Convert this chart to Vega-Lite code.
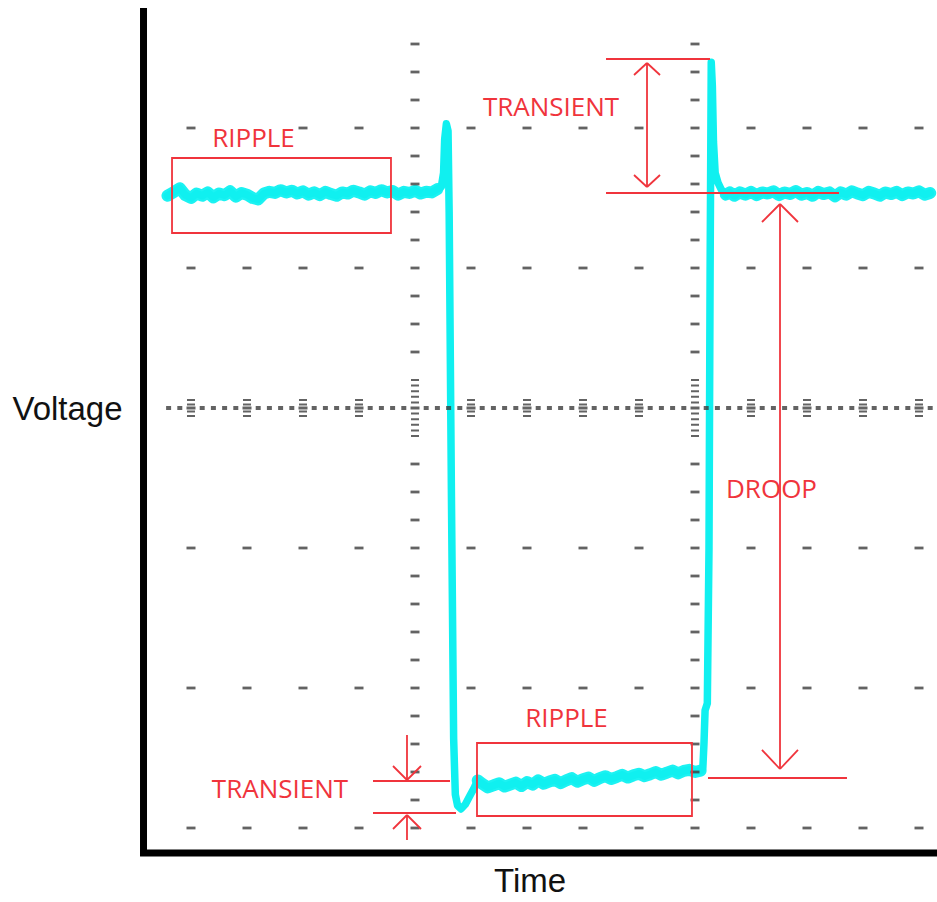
{
  "$schema": "https://vega.github.io/schema/vega-lite/v6.json",
  "width": 937,
  "height": 902,
  "autosize": {"type": "none"},
  "padding": 0,
  "background": "white",
  "config": {"view": {"stroke": null}},
  "datasets": {
    "trace": [
      {"s":"a","t":-4.42,"v":7.58},{"s":"a","t":-4.3,"v":7.72},{"s":"a","t":-4.2,"v":7.85},{"s":"a","t":-4.1,"v":7.6},{"s":"a","t":-4.0,"v":7.5},
      {"s":"a","t":-3.9,"v":7.66},{"s":"a","t":-3.8,"v":7.58},{"s":"a","t":-3.7,"v":7.7},{"s":"a","t":-3.6,"v":7.52},{"s":"a","t":-3.5,"v":7.66},
      {"s":"a","t":-3.4,"v":7.6},{"s":"a","t":-3.3,"v":7.74},{"s":"a","t":-3.2,"v":7.55},{"s":"a","t":-3.1,"v":7.68},{"s":"a","t":-3.0,"v":7.62},
      {"s":"a","t":-2.9,"v":7.5},{"s":"a","t":-2.8,"v":7.45},{"s":"a","t":-2.7,"v":7.66},{"s":"a","t":-2.6,"v":7.72},{"s":"a","t":-2.5,"v":7.68},
      {"s":"a","t":-2.4,"v":7.78},{"s":"a","t":-2.3,"v":7.7},{"s":"a","t":-2.2,"v":7.76},{"s":"a","t":-2.1,"v":7.66},{"s":"a","t":-2.0,"v":7.74},
      {"s":"a","t":-1.9,"v":7.62},{"s":"a","t":-1.8,"v":7.7},{"s":"a","t":-1.7,"v":7.6},{"s":"a","t":-1.6,"v":7.72},{"s":"a","t":-1.5,"v":7.64},
      {"s":"a","t":-1.4,"v":7.58},{"s":"a","t":-1.3,"v":7.7},{"s":"a","t":-1.2,"v":7.66},{"s":"a","t":-1.1,"v":7.76},{"s":"a","t":-1.0,"v":7.7},
      {"s":"a","t":-0.9,"v":7.62},{"s":"a","t":-0.8,"v":7.74},{"s":"a","t":-0.7,"v":7.68},{"s":"a","t":-0.6,"v":7.78},{"s":"a","t":-0.5,"v":7.7},
      {"s":"a","t":-0.4,"v":7.75},{"s":"a","t":-0.3,"v":7.62},{"s":"a","t":-0.2,"v":7.72},{"s":"a","t":-0.1,"v":7.68},{"s":"a","t":0.0,"v":7.76},
      {"s":"a","t":0.1,"v":7.66},{"s":"a","t":0.2,"v":7.72},{"s":"a","t":0.3,"v":7.7},{"s":"a","t":0.4,"v":7.82},
      {"s":"e","t":0.47,"v":7.9},{"s":"e","t":0.51,"v":8.4},{"s":"e","t":0.53,"v":9.6},{"s":"e","t":0.56,"v":10.15},{"s":"e","t":0.59,"v":9.9},
      {"s":"e","t":0.61,"v":7.0},{"s":"e","t":0.65,"v":-3.0},{"s":"e","t":0.69,"v":-11.8},{"s":"e","t":0.72,"v":-13.8},
      {"s":"e","t":0.76,"v":-14.2},{"s":"e","t":0.82,"v":-14.32},{"s":"e","t":0.9,"v":-14.15},{"s":"e","t":0.98,"v":-13.85},{"s":"e","t":1.06,"v":-13.55},
      {"s":"b","t":1.12,"v":-13.3},{"s":"b","t":1.2,"v":-13.42},{"s":"b","t":1.3,"v":-13.55},{"s":"b","t":1.4,"v":-13.48},{"s":"b","t":1.5,"v":-13.4},
      {"s":"b","t":1.6,"v":-13.52},{"s":"b","t":1.7,"v":-13.45},{"s":"b","t":1.8,"v":-13.38},{"s":"b","t":1.9,"v":-13.5},{"s":"b","t":2.0,"v":-13.36},
      {"s":"b","t":2.1,"v":-13.45},{"s":"b","t":2.2,"v":-13.3},{"s":"b","t":2.3,"v":-13.42},{"s":"b","t":2.4,"v":-13.34},{"s":"b","t":2.5,"v":-13.28},
      {"s":"b","t":2.6,"v":-13.4},{"s":"b","t":2.7,"v":-13.3},{"s":"b","t":2.8,"v":-13.22},{"s":"b","t":2.9,"v":-13.35},{"s":"b","t":3.0,"v":-13.26},
      {"s":"b","t":3.1,"v":-13.2},{"s":"b","t":3.2,"v":-13.32},{"s":"b","t":3.3,"v":-13.22},{"s":"b","t":3.4,"v":-13.15},{"s":"b","t":3.5,"v":-13.25},
      {"s":"b","t":3.6,"v":-13.18},{"s":"b","t":3.7,"v":-13.1},{"s":"b","t":3.8,"v":-13.2},{"s":"b","t":3.9,"v":-13.12},{"s":"b","t":4.0,"v":-13.06},
      {"s":"b","t":4.1,"v":-13.15},{"s":"b","t":4.2,"v":-13.08},{"s":"b","t":4.3,"v":-13.0},{"s":"b","t":4.4,"v":-13.1},{"s":"b","t":4.5,"v":-13.02},
      {"s":"b","t":4.6,"v":-12.95},{"s":"b","t":4.7,"v":-13.05},{"s":"b","t":4.8,"v":-12.96},{"s":"b","t":4.9,"v":-12.92},{"s":"b","t":5.0,"v":-13.0},
      {"s":"b","t":5.1,"v":-12.95},
      {"s":"e","t":5.14,"v":-12.85},{"s":"e","t":5.16,"v":-12.0},{"s":"e","t":5.18,"v":-10.8},{"s":"e","t":5.22,"v":-10.55},
      {"s":"e","t":5.25,"v":-5.0},{"s":"e","t":5.27,"v":5.0},{"s":"e","t":5.29,"v":12.35},{"s":"e","t":5.31,"v":11.5},{"s":"e","t":5.33,"v":9.5},
      {"s":"e","t":5.36,"v":8.4},{"s":"e","t":5.41,"v":8.05},{"s":"e","t":5.47,"v":7.8},
      {"s":"c","t":5.55,"v":7.62},{"s":"c","t":5.62,"v":7.7},
      {"s":"c","t":5.7,"v":7.58},{"s":"c","t":5.8,"v":7.7},{"s":"c","t":5.9,"v":7.62},{"s":"c","t":6.0,"v":7.72},{"s":"c","t":6.1,"v":7.6},
      {"s":"c","t":6.2,"v":7.7},{"s":"c","t":6.3,"v":7.66},{"s":"c","t":6.4,"v":7.74},{"s":"c","t":6.5,"v":7.6},{"s":"c","t":6.6,"v":7.7},
      {"s":"c","t":6.7,"v":7.64},{"s":"c","t":6.8,"v":7.75},{"s":"c","t":6.9,"v":7.62},{"s":"c","t":7.0,"v":7.68},{"s":"c","t":7.1,"v":7.58},
      {"s":"c","t":7.2,"v":7.72},{"s":"c","t":7.3,"v":7.64},{"s":"c","t":7.4,"v":7.7},{"s":"c","t":7.5,"v":7.56},{"s":"c","t":7.6,"v":7.7},
      {"s":"c","t":7.7,"v":7.62},{"s":"c","t":7.8,"v":7.74},{"s":"c","t":7.9,"v":7.66},{"s":"c","t":8.0,"v":7.6},{"s":"c","t":8.1,"v":7.72},
      {"s":"c","t":8.2,"v":7.66},{"s":"c","t":8.3,"v":7.58},{"s":"c","t":8.4,"v":7.7},{"s":"c","t":8.5,"v":7.64},{"s":"c","t":8.6,"v":7.72},
      {"s":"c","t":8.7,"v":7.6},{"s":"c","t":8.8,"v":7.7},{"s":"c","t":8.9,"v":7.66},{"s":"c","t":9.0,"v":7.74},{"s":"c","t":9.1,"v":7.62},{"s":"c","t":9.2,"v":7.68}
    ],
    "grid": [
      {"k":"d","t":-4,"v":10},{"k":"d","t":-2,"v":10},{"k":"d","t":-1,"v":10},{"k":"d","t":1,"v":10},{"k":"d","t":2,"v":10},{"k":"d","t":3,"v":10},{"k":"d","t":4,"v":10},{"k":"d","t":6,"v":10},{"k":"d","t":7,"v":10},{"k":"d","t":8,"v":10},{"k":"d","t":9,"v":10},
      {"k":"d","t":-4,"v":5},{"k":"d","t":-3,"v":5},{"k":"d","t":-2,"v":5},{"k":"d","t":-1,"v":5},{"k":"d","t":1,"v":5},{"k":"d","t":2,"v":5},{"k":"d","t":3,"v":5},{"k":"d","t":4,"v":5},{"k":"d","t":6,"v":5},{"k":"d","t":7,"v":5},{"k":"d","t":8,"v":5},{"k":"d","t":9,"v":5},
      {"k":"d","t":-4,"v":-5},{"k":"d","t":-3,"v":-5},{"k":"d","t":-2,"v":-5},{"k":"d","t":-1,"v":-5},{"k":"d","t":1,"v":-5},{"k":"d","t":2,"v":-5},{"k":"d","t":3,"v":-5},{"k":"d","t":4,"v":-5},{"k":"d","t":6,"v":-5},{"k":"d","t":7,"v":-5},{"k":"d","t":8,"v":-5},{"k":"d","t":9,"v":-5},
      {"k":"d","t":-4,"v":-10},{"k":"d","t":-3,"v":-10},{"k":"d","t":-2,"v":-10},{"k":"d","t":-1,"v":-10},{"k":"d","t":1,"v":-10},{"k":"d","t":2,"v":-10},{"k":"d","t":3,"v":-10},{"k":"d","t":4,"v":-10},{"k":"d","t":6,"v":-10},{"k":"d","t":7,"v":-10},{"k":"d","t":8,"v":-10},{"k":"d","t":9,"v":-10},
      {"k":"d","t":-4,"v":-15},{"k":"d","t":-3,"v":-15},{"k":"d","t":-2,"v":-15},{"k":"d","t":-1,"v":-15},{"k":"d","t":1,"v":-15},{"k":"d","t":2,"v":-15},{"k":"d","t":3,"v":-15},{"k":"d","t":4,"v":-15},{"k":"d","t":6,"v":-15},{"k":"d","t":7,"v":-15},{"k":"d","t":8,"v":-15},{"k":"d","t":9,"v":-15},
      {"k":"d","t":0,"v":13},{"k":"d","t":0,"v":12},{"k":"d","t":0,"v":11},{"k":"d","t":0,"v":10},{"k":"d","t":0,"v":9},{"k":"d","t":0,"v":8},{"k":"d","t":0,"v":7},{"k":"d","t":0,"v":6},{"k":"d","t":0,"v":5},{"k":"d","t":0,"v":4},{"k":"d","t":0,"v":3},{"k":"d","t":0,"v":2},
      {"k":"d","t":0,"v":-2},{"k":"d","t":0,"v":-3},{"k":"d","t":0,"v":-4},{"k":"d","t":0,"v":-5},{"k":"d","t":0,"v":-6},{"k":"d","t":0,"v":-7},{"k":"d","t":0,"v":-8},{"k":"d","t":0,"v":-9},{"k":"d","t":0,"v":-10},{"k":"d","t":0,"v":-11},{"k":"d","t":0,"v":-12},{"k":"d","t":0,"v":-13},{"k":"d","t":0,"v":-14},{"k":"d","t":0,"v":-15},
      {"k":"d","t":5,"v":13},{"k":"d","t":5,"v":12},{"k":"d","t":5,"v":11},{"k":"d","t":5,"v":10},{"k":"d","t":5,"v":9},{"k":"d","t":5,"v":8},{"k":"d","t":5,"v":7},{"k":"d","t":5,"v":6},{"k":"d","t":5,"v":5},{"k":"d","t":5,"v":4},{"k":"d","t":5,"v":3},{"k":"d","t":5,"v":2},
      {"k":"d","t":5,"v":-2},{"k":"d","t":5,"v":-3},{"k":"d","t":5,"v":-4},{"k":"d","t":5,"v":-5},{"k":"d","t":5,"v":-6},{"k":"d","t":5,"v":-7},{"k":"d","t":5,"v":-8},{"k":"d","t":5,"v":-9},{"k":"d","t":5,"v":-10},{"k":"d","t":5,"v":-11},{"k":"d","t":5,"v":-12},{"k":"d","t":5,"v":-13},{"k":"d","t":5,"v":-14},{"k":"d","t":5,"v":-15},
      {"k":"s","t":-4,"v":0},{"k":"s","t":-3,"v":0},{"k":"s","t":-2,"v":0},{"k":"s","t":-1,"v":0},{"k":"s","t":1,"v":0},{"k":"s","t":2,"v":0},{"k":"s","t":3,"v":0},{"k":"s","t":4,"v":0},{"k":"s","t":6,"v":0},{"k":"s","t":7,"v":0},{"k":"s","t":8,"v":0},{"k":"s","t":9,"v":0},
      {"k":"b","t":0,"v":0},{"k":"b","t":5,"v":0},
      {"k":"o","t":-4.4,"v":0},{"k":"o","t":-4.2,"v":0},
      {"k":"o","t":-3.8,"v":0},{"k":"o","t":-3.6,"v":0},{"k":"o","t":-3.4,"v":0},{"k":"o","t":-3.2,"v":0},
      {"k":"o","t":-2.8,"v":0},{"k":"o","t":-2.6,"v":0},{"k":"o","t":-2.4,"v":0},{"k":"o","t":-2.2,"v":0},
      {"k":"o","t":-1.8,"v":0},{"k":"o","t":-1.6,"v":0},{"k":"o","t":-1.4,"v":0},{"k":"o","t":-1.2,"v":0},
      {"k":"o","t":-0.8,"v":0},{"k":"o","t":-0.6,"v":0},{"k":"o","t":-0.4,"v":0},{"k":"o","t":-0.2,"v":0},
      {"k":"o","t":0.2,"v":0},{"k":"o","t":0.4,"v":0},{"k":"o","t":0.6,"v":0},{"k":"o","t":0.8,"v":0},
      {"k":"o","t":1.2,"v":0},{"k":"o","t":1.4,"v":0},{"k":"o","t":1.6,"v":0},{"k":"o","t":1.8,"v":0},
      {"k":"o","t":2.2,"v":0},{"k":"o","t":2.4,"v":0},{"k":"o","t":2.6,"v":0},{"k":"o","t":2.8,"v":0},
      {"k":"o","t":3.2,"v":0},{"k":"o","t":3.4,"v":0},{"k":"o","t":3.6,"v":0},{"k":"o","t":3.8,"v":0},
      {"k":"o","t":4.2,"v":0},{"k":"o","t":4.4,"v":0},{"k":"o","t":4.6,"v":0},{"k":"o","t":4.8,"v":0},
      {"k":"o","t":5.2,"v":0},{"k":"o","t":5.4,"v":0},{"k":"o","t":5.6,"v":0},{"k":"o","t":5.8,"v":0},
      {"k":"o","t":6.2,"v":0},{"k":"o","t":6.4,"v":0},{"k":"o","t":6.6,"v":0},{"k":"o","t":6.8,"v":0},
      {"k":"o","t":7.2,"v":0},{"k":"o","t":7.4,"v":0},{"k":"o","t":7.6,"v":0},{"k":"o","t":7.8,"v":0},
      {"k":"o","t":8.2,"v":0},{"k":"o","t":8.4,"v":0},{"k":"o","t":8.6,"v":0},{"k":"o","t":8.8,"v":0},
      {"k":"o","t":9.2,"v":0}
    ],
    "frame": [
      {"t1":-4.848,"v1":14.29,"t2":-4.848,"v2":-16.0},
      {"t1":-4.91,"v1":-15.893,"t2":9.4,"v2":-15.893}
    ],
    "red": [
      {"t1":3.411,"v1":12.464,"t2":5.268,"v2":12.464},
      {"t1":3.411,"v1":7.679,"t2":7.571,"v2":7.679},
      {"t1":4.143,"v1":12.321,"t2":4.143,"v2":7.893},
      {"t1":4.143,"v1":12.321,"t2":3.911,"v2":11.893},
      {"t1":4.143,"v1":12.321,"t2":4.375,"v2":11.893},
      {"t1":4.143,"v1":7.893,"t2":3.911,"v2":8.321},
      {"t1":4.143,"v1":7.893,"t2":4.375,"v2":8.321},
      {"t1":6.518,"v1":7.286,"t2":6.518,"v2":-12.893},
      {"t1":6.518,"v1":7.286,"t2":6.196,"v2":6.643},
      {"t1":6.518,"v1":7.286,"t2":6.839,"v2":6.643},
      {"t1":6.518,"v1":-12.893,"t2":6.196,"v2":-12.214},
      {"t1":6.518,"v1":-12.893,"t2":6.839,"v2":-12.214},
      {"t1":5.232,"v1":-13.214,"t2":7.714,"v2":-13.214},
      {"t1":-0.75,"v1":-13.321,"t2":0.625,"v2":-13.321},
      {"t1":-0.75,"v1":-14.464,"t2":0.732,"v2":-14.464},
      {"t1":-0.143,"v1":-11.679,"t2":-0.143,"v2":-13.286},
      {"t1":-0.143,"v1":-13.286,"t2":-0.393,"v2":-12.786},
      {"t1":-0.143,"v1":-13.286,"t2":0.107,"v2":-12.786},
      {"t1":-0.143,"v1":-14.536,"t2":-0.143,"v2":-15.429},
      {"t1":-0.143,"v1":-14.536,"t2":-0.393,"v2":-15.036},
      {"t1":-0.143,"v1":-14.536,"t2":0.107,"v2":-15.036}
    ],
    "boxes": [
      {"t1":-4.339,"v1":8.929,"t2":-0.429,"v2":6.25},
      {"t1":1.107,"v1":-11.964,"t2":4.946,"v2":-14.571}
    ],
    "redText": [
      {"label":"RIPPLE","t":-2.884,"v":9.321},
      {"label":"TRANSIENT","t":2.429,"v":10.429},
      {"label":"DROOP","t":6.366,"v":-3.214},
      {"label":"RIPPLE","t":2.705,"v":-11.393},
      {"label":"TRANSIENT","t":-2.411,"v":-13.929}
    ],
    "axisText": [
      {"label":"Voltage","t":-6.205,"v":-0.429},
      {"label":"Time","t":2.054,"v":-17.286}
    ]
  },
  "layer": [
    {
      "data": {"name": "trace"},
      "transform": [{"filter": "datum.s !== 'e'"}],
      "mark": {"type": "line", "color": "#1cf2f2", "strokeWidth": 12, "strokeJoin": "round", "strokeCap": "round"},
      "encoding": {
        "x": {"field": "t", "type": "quantitative", "axis": null, "scale": {"domain": [-7.4107, 9.3214], "nice": false, "zero": false}},
        "y": {"field": "v", "type": "quantitative", "axis": null, "scale": {"domain": [-17.6429, 14.5714], "nice": false, "zero": false}},
        "detail": {"field": "s", "type": "nominal"}
      }
    },
    {
      "data": {"name": "trace"},
      "mark": {"type": "line", "color": "#10f0f0", "strokeWidth": 7.5, "strokeJoin": "round", "strokeCap": "round"},
      "encoding": {
        "x": {"field": "t", "type": "quantitative", "axis": null, "scale": {"domain": [-7.4107, 9.3214], "nice": false, "zero": false}},
        "y": {"field": "v", "type": "quantitative", "axis": null, "scale": {"domain": [-17.6429, 14.5714], "nice": false, "zero": false}}
      }
    },
    {
      "data": {"name": "grid"},
      "mark": {"type": "point", "filled": true, "size": 4, "fill": "#3c3c3c", "opacity": 0.8, "strokeWidth": 0},
      "encoding": {
        "x": {"field": "t", "type": "quantitative", "axis": null, "scale": {"domain": [-7.4107, 9.3214], "nice": false, "zero": false}},
        "y": {"field": "v", "type": "quantitative", "axis": null, "scale": {"domain": [-17.6429, 14.5714], "nice": false, "zero": false}},
        "shape": {
          "field": "k", "type": "nominal", "legend": null,
          "scale": {
            "domain": ["d", "o", "s", "b"],
            "range": [
              "M-4.5,-1.4H4.5V1.4H-4.5Z",
              "M-2.5,-2H2.5V2H-2.5Z",
              "M-4,-9H4V-7H-4Z M-4,-4.6H4V-2.6H-4Z M-4.5,-1.5H4.5V1.5H-4.5Z M-4,2.6H4V4.6H-4Z M-4,7H4V9H-4Z",
              "M-4,-29H4V-27H-4Z M-4,-23.4H4V-21.4H-4Z M-4,-17.8H4V-15.8H-4Z M-4,-12.2H4V-10.2H-4Z M-4,-6.6H4V-4.6H-4Z M-4.5,-1.5H4.5V1.5H-4.5Z M-4,4.6H4V6.6H-4Z M-4,10.2H4V12.2H-4Z M-4,15.8H4V17.8H-4Z M-4,21.4H4V23.4H-4Z M-4,27H4V29H-4Z"
            ]
          }
        }
      }
    },
    {
      "data": {"name": "frame"},
      "mark": {"type": "rule", "color": "#000000", "strokeWidth": 7, "strokeCap": "butt"},
      "encoding": {
        "x": {"field": "t1", "type": "quantitative", "axis": null, "scale": {"domain": [-7.4107, 9.3214], "nice": false, "zero": false}},
        "y": {"field": "v1", "type": "quantitative", "axis": null, "scale": {"domain": [-17.6429, 14.5714], "nice": false, "zero": false}},
        "x2": {"field": "t2"},
        "y2": {"field": "v2"}
      }
    },
    {
      "data": {"name": "red"},
      "mark": {"type": "rule", "color": "#f0343c", "strokeWidth": 1.8},
      "encoding": {
        "x": {"field": "t1", "type": "quantitative", "axis": null, "scale": {"domain": [-7.4107, 9.3214], "nice": false, "zero": false}},
        "y": {"field": "v1", "type": "quantitative", "axis": null, "scale": {"domain": [-17.6429, 14.5714], "nice": false, "zero": false}},
        "x2": {"field": "t2"},
        "y2": {"field": "v2"}
      }
    },
    {
      "data": {"name": "boxes"},
      "mark": {"type": "rect", "fill": null, "fillOpacity": 0, "stroke": "#f0343c", "strokeWidth": 1.8},
      "encoding": {
        "x": {"field": "t1", "type": "quantitative", "axis": null, "scale": {"domain": [-7.4107, 9.3214], "nice": false, "zero": false}},
        "y": {"field": "v1", "type": "quantitative", "axis": null, "scale": {"domain": [-17.6429, 14.5714], "nice": false, "zero": false}},
        "x2": {"field": "t2"},
        "y2": {"field": "v2"}
      }
    },
    {
      "data": {"name": "redText"},
      "mark": {"type": "text", "font": "Open Sans", "fontSize": 26, "color": "#f0343c", "align": "center", "baseline": "alphabetic"},
      "encoding": {
        "x": {"field": "t", "type": "quantitative", "axis": null, "scale": {"domain": [-7.4107, 9.3214], "nice": false, "zero": false}},
        "y": {"field": "v", "type": "quantitative", "axis": null, "scale": {"domain": [-17.6429, 14.5714], "nice": false, "zero": false}},
        "text": {"field": "label"}
      }
    },
    {
      "data": {"name": "axisText"},
      "mark": {"type": "text", "font": "Liberation Sans", "fontSize": 33, "color": "#111111", "align": "center", "baseline": "alphabetic"},
      "encoding": {
        "x": {"field": "t", "type": "quantitative", "axis": null, "scale": {"domain": [-7.4107, 9.3214], "nice": false, "zero": false}},
        "y": {"field": "v", "type": "quantitative", "axis": null, "scale": {"domain": [-17.6429, 14.5714], "nice": false, "zero": false}},
        "text": {"field": "label"}
      }
    }
  ]
}
